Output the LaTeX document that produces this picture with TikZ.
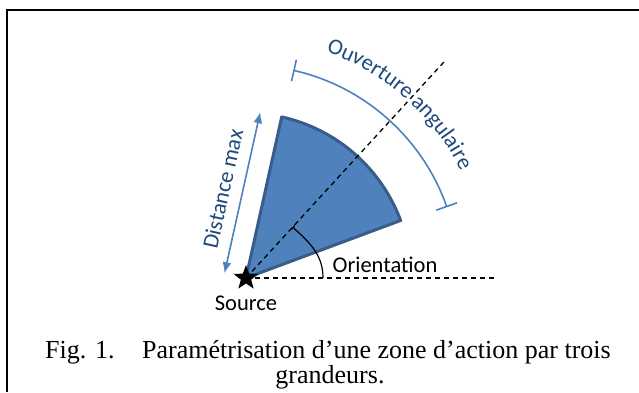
\documentclass[tikz,border=0pt]{standalone}
\usepackage{fontspec}
\setmainfont{Liberation Serif}
\setsansfont{Carlito}
\usetikzlibrary{arrows.meta,shapes.geometric,decorations.text,calc}
\definecolor{zonefill}{RGB}{79,129,189}
\definecolor{zoneedge}{RGB}{56,93,138}
\definecolor{lightblue}{RGB}{79,129,189}
\definecolor{darkblue}{RGB}{31,73,125}
\newcommand{\lbl}{\sffamily\fontsize{22.5}{25}\selectfont}
\newcommand{\capfont}{\fontsize{26}{29}\selectfont}

\begin{document}
\begin{tikzpicture}[x=1pt,y=1pt]
    \tikzstyle{frame}=[line width=2.5pt]
    \tikzstyle{zone}=[fill=zonefill, draw=zoneedge, line width=3pt, line join=round]
    \tikzstyle{guide}=[dash pattern=on 5pt off 4pt, line width=1.3pt]
    \tikzstyle{measure}=[draw=lightblue, line width=1.6pt]
    \tikzstyle{label}=[font=\lbl, inner sep=0pt]
    \useasboundingbox (-246,-114) rectangle (393,278);
    \draw[frame] (-239,-114) -- (-239,268) -- (393,268);
    \coordinate (src) at (0,0);
    \draw[zone] (src) -- (77.5:165) arc[start angle=77.5, end angle=20.4, radius=165] -- cycle;
    \draw[guide] (src) -- (47.5:296);
    \draw[guide] (src) -- (251,0);
    \draw[line width=1.2pt, {Bar[width=5pt]}-] (47.5:69) to[out=-42, in=90] (77,0);
    \node[label] (orient) at (139,13) {Orientation};
    \coordinate (dlow) at (167.5:22);
    \coordinate (dhigh) at ($(dlow)+(77.5:165)$);
    \draw[measure, {Latex[length=11pt,width=9pt]}-{Latex[length=11pt,width=9pt]}] (dlow) -- (dhigh);
    \node[label, text=darkblue, rotate=77.5] (dist) at ($(167.5:42)+(77.5:82)$) {Distance max};
    \draw[measure, {Bar[width=22pt]}-{Bar[width=22pt]}] (77.2:213) arc[start angle=77.2, end angle=19.4, radius=213];
    \path[decorate, decoration={text along path, text align=center,
        text={|\lbl\color{darkblue}|Ouverture angulaire}}]
        (79:240) arc[start angle=79, end angle=18, radius=240];
    \node[star, star points=5, star point ratio=2.4, fill=black, minimum size=26pt, inner sep=0pt] (star) at (src) {};
    \node[label] (source) at (0,-25) {Source};
    \node[anchor=base west, inner sep=0pt, font=\capfont] (fignum) at (-201,-80) {Fig. 1.};
    \node[anchor=base west, inner sep=0pt, font=\capfont] (capline) at (-104,-80) {Paramétrisation d’une zone d’action par trois};
    \node[anchor=base, inner sep=0pt, font=\capfont] (capend) at (84,-105) {grandeurs.};
\end{tikzpicture}
\end{document}
